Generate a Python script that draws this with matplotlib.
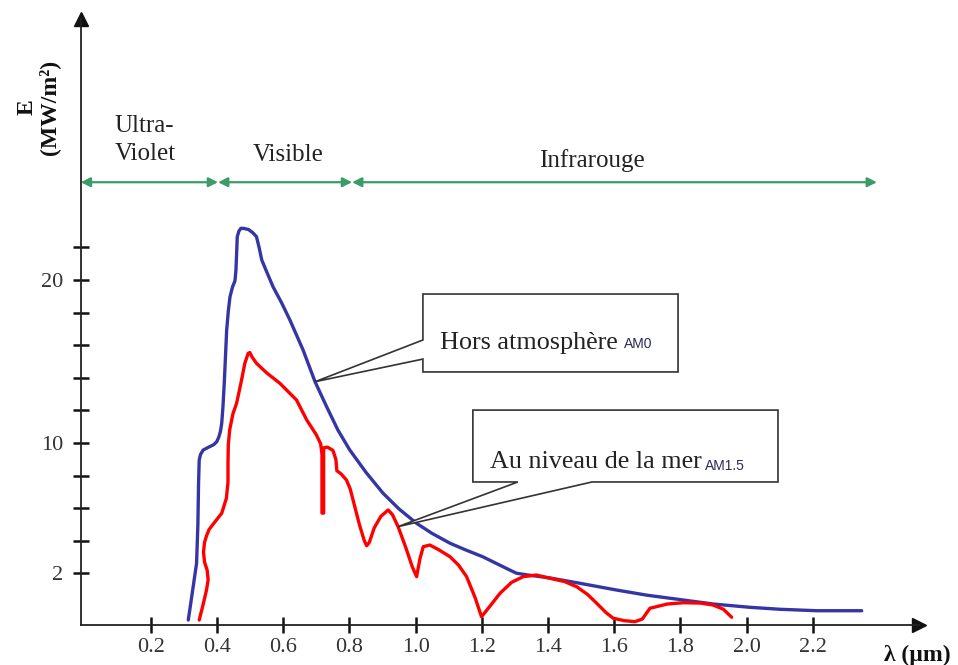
import numpy as np
import matplotlib
matplotlib.use("Agg")
import matplotlib.pyplot as plt
from matplotlib.patches import Polygon

# spectral irradiance curves (lambda in um, E)
am0_x = [0.313, 0.325, 0.338, 0.342, 0.344, 0.346, 0.350, 0.358, 0.375, 0.390, 0.399, 0.405,
         0.410, 0.414, 0.418, 0.422, 0.429, 0.434, 0.439, 0.447, 0.454, 0.457, 0.459, 0.461,
         0.466, 0.472, 0.479, 0.495, 0.508, 0.519, 0.527, 0.535, 0.550, 0.569, 0.595, 0.620,
         0.660, 0.696, 0.731, 0.765, 0.801, 0.850, 0.901, 0.950, 1.003, 1.050, 1.104, 1.150,
         1.203, 1.250, 1.285, 1.305, 1.340, 1.406, 1.500, 1.607, 1.700, 1.808, 1.900, 2.010,
         2.100, 2.212, 2.348]
am0_y = [-0.86, 0.8, 2.62, 5.0, 7.5, 8.96, 9.30, 9.57, 9.75, 9.90, 10.08, 10.35,
         10.7, 11.2, 12.3, 13.8, 16.93, 18.1, 18.97, 19.6, 19.94, 20.6, 21.6, 22.66,
         23.0, 23.17, 23.17, 23.1, 22.9, 22.66, 22.0, 21.23, 20.5, 19.59, 18.6, 17.55,
         15.7, 13.76, 12.23, 10.8, 9.57, 8.2, 6.93, 5.95, 5.07, 4.45, 3.85, 3.45,
         3.02, 2.55, 2.20, 2.01, 1.90, 1.72, 1.38, 0.98, 0.66, 0.37, 0.12, -0.08,
         -0.20, -0.29, -0.29]

am15_x = [0.346, 0.358, 0.368, 0.373, 0.370, 0.362, 0.359, 0.362, 0.368, 0.376, 0.395, 0.414,
          0.428, 0.433, 0.433, 0.434, 0.438, 0.448, 0.459, 0.466, 0.474, 0.484, 0.494, 0.499,
          0.505, 0.519, 0.550, 0.590, 0.640, 0.671, 0.700, 0.713, 0.717, 0.717, 0.722, 0.722,
          0.733, 0.750, 0.759, 0.762, 0.775, 0.791, 0.802, 0.811, 0.830, 0.845, 0.852, 0.860,
          0.875, 0.895, 0.917, 0.930, 0.947, 0.970, 0.990, 1.003, 1.013, 1.023, 1.043, 1.070,
          1.104, 1.130, 1.154, 1.180, 1.199, 1.225, 1.255, 1.290, 1.325, 1.365, 1.406, 1.450,
          1.487, 1.520, 1.547, 1.575, 1.597, 1.630, 1.663, 1.685, 1.708, 1.760, 1.809, 1.860,
          1.899, 1.930, 1.955]
am15_y = [-0.86, 0.1, 0.98, 1.6, 2.2, 2.7, 3.3, 3.9, 4.3, 4.7, 5.2, 5.69,
          6.6, 7.6, 8.8, 9.9, 10.8, 11.8, 12.44, 13.1, 13.87, 14.9, 15.50, 15.55,
          15.3, 14.89, 14.3, 13.66, 12.64, 11.41, 10.5, 9.95, 9.3, 5.7, 5.7, 9.7,
          9.75, 9.55, 9.0, 8.3, 8.1, 7.73, 7.2, 6.50, 5.0, 4.0, 3.70, 3.9,
          4.8, 5.5, 5.89, 5.6, 4.87, 3.6, 2.4, 1.80, 2.9, 3.64, 3.74, 3.45,
          3.02, 2.5, 1.80, 0.5, -0.66, 0.0, 0.78, 1.45, 1.80, 1.90, 1.70, 1.50,
          1.18, 0.70, 0.17, -0.40, -0.75, -0.90, -0.96, -0.80, -0.14, 0.12, 0.20, 0.18,
          0.06, -0.20, -0.69]

x_ticks = [0.2, 0.4, 0.6, 0.8, 1.0, 1.2, 1.4, 1.6, 1.8, 2.0, 2.2]
x_tick_labels = ["0.2", "0.4", "0.6", "0.8", "1.0", "1.2", "1.4", "1.6", "1.8", "2.0", "2.2"]
y_ticks = [2, 4, 6, 8, 10, 12, 14, 16, 18, 20, 22]
y_tick_labels = ["2", "", "", "", "10", "", "", "", "", "20", ""]

# spectral bands (um)
band_edges = [-0.012, 0.403, 0.808, 2.394]
band_names = ["Ultra-\nViolet", "Visible", "Infrarouge"]

serif = "Liberation Serif"
blue = "#3535a5"
red = "#ff0000"
green = "#3a9c68"

fig = plt.figure(figsize=(9.58, 6.65), dpi=100)
ax = fig.add_axes([0, 0, 1, 1])
ax.set_xlim(-0.256, 2.639)
ax.set_ylim(-3.62, 37.18)

x_axis_y = -1.17
y_axis_x = -0.012

# axes drawn as spines crossing at the origin of the sketch
for s in ["top", "right"]:
    ax.spines[s].set_visible(False)
ax.spines["left"].set_position(("data", y_axis_x))
ax.spines["bottom"].set_position(("data", x_axis_y))
ax.spines["left"].set_bounds(x_axis_y, 36.0)
ax.spines["bottom"].set_bounds(y_axis_x, 2.52)
for s in ["left", "bottom"]:
    ax.spines[s].set_linewidth(1.3)
    ax.spines[s].set_color("#222222")

ax.plot([y_axis_x], [36.0], marker="^", ms=10, color="#111111", clip_on=False)
ax.plot([2.52], [x_axis_y], marker=">", ms=10, color="#111111", clip_on=False)

ax.set_xticks(x_ticks)
ax.set_xticklabels(x_tick_labels, fontfamily=serif, fontsize=16, color="#333333")
ax.set_yticks(y_ticks)
ax.set_yticklabels(y_tick_labels, fontfamily=serif, fontsize=16, color="#333333")
ax.tick_params(axis="both", direction="inout", length=11, width=1.8, color="#111111")
ax.tick_params(axis="x", pad=4)
ax.tick_params(axis="y", pad=7)

# curves
ax.plot(am0_x, am0_y, color=blue, lw=2.4, solid_capstyle="round",
        solid_joinstyle="round", zorder=3)
ax.plot(am15_x, am15_y, color=red, lw=2.4, solid_capstyle="round",
        solid_joinstyle="round", zorder=3)

# spectral band arrows
band_y = 26.0
for a, b in zip(band_edges[:-1], band_edges[1:]):
    ax.annotate("", xy=(a, band_y), xytext=(b, band_y),
                arrowprops=dict(arrowstyle="<|-|>", color=green, lw=1.6,
                                mutation_scale=14, shrinkA=0, shrinkB=0))
ax.text(0.091, 28.6, band_names[0], fontfamily=serif, fontsize=18, ha="left",
        va="center", color="#222222", linespacing=1.35)
ax.text(0.615, 27.67, band_names[1], fontfamily=serif, fontsize=18, ha="center",
        va="center", color="#222222")
ax.text(1.533, 27.36, band_names[2], fontfamily=serif, fontsize=18, ha="center",
        va="center", color="#222222")

# axis titles
ax.text(-0.141, 30.6, "E\n(MW/m²)", fontfamily=serif, fontweight="bold", fontsize=17,
        rotation=90, ha="center", va="center", multialignment="center", color="#111111",
        linespacing=1.0)
ax.text(2.415, -3.05, "λ (µm)", fontfamily=serif, fontweight="bold", fontsize=17,
        ha="left", va="center", color="#111111")

# callout 1 : above the atmosphere
tip1 = (0.696, np.interp(0.696, am0_x, am0_y))
bx0, bx1, by0, by1 = 1.022, 1.793, 14.36, 19.14
call1 = Polygon([(bx0, by1), (bx0, 16.32), tip1, (bx0, 15.15), (bx0, by0),
                 (bx1, by0), (bx1, by1)], closed=True, facecolor="white",
                edgecolor="#333333", lw=1.2, zorder=4)
ax.add_patch(call1)
t1 = ax.text(1.073, 16.15, "Hors atmosphère ", fontfamily=serif, fontsize=18.8,
             ha="left", va="center", color="#222222", zorder=5)
ax.annotate("AM0", xy=(1.0, 0.12), xycoords=t1, ha="left", va="bottom",
            fontfamily="Liberation Sans", fontsize=10, color="#2a2a55", zorder=5)

# callout 2 : sea level
tip2 = (0.947, np.interp(0.947, am15_x, am15_y))
cx0, cx1, cy0, cy1 = 1.173, 2.095, 7.61, 12.02
call2 = Polygon([(cx0, cy1), (cx0, cy0), (1.309, cy0), tip2, (1.533, cy0),
                 (cx1, cy0), (cx1, cy1)], closed=True, facecolor="white",
                edgecolor="#333333", lw=1.2, zorder=4)
ax.add_patch(call2)
t2 = ax.text(1.225, 8.83, "Au niveau de la mer", fontfamily=serif, fontsize=18.8,
             ha="left", va="center", color="#222222", zorder=5)
ax.annotate("AM1.5", xy=(1.0, 0.0), xycoords=t2, xytext=(2, 0),
            textcoords="offset points", ha="left", va="bottom",
            fontfamily="Liberation Sans", fontsize=10, color="#2a2a55", zorder=5)

fig.savefig("out.png", dpi=100, facecolor="white")
